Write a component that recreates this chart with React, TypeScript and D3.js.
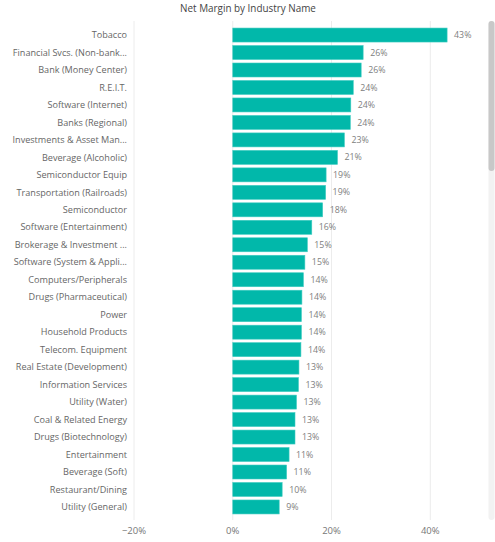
import * as d3 from "d3";

const width = 495;
const height = 542;

// industries, sorted by net margin (descending)
const industries = [
  "Tobacco",
  "Financial Svcs. (Non-bank...",
  "Bank (Money Center)",
  "R.E.I.T.",
  "Software (Internet)",
  "Banks (Regional)",
  "Investments & Asset Man...",
  "Beverage (Alcoholic)",
  "Semiconductor Equip",
  "Transportation (Railroads)",
  "Semiconductor",
  "Software (Entertainment)",
  "Brokerage & Investment ...",
  "Software (System & Appli...",
  "Computers/Peripherals",
  "Drugs (Pharmaceutical)",
  "Power",
  "Household Products",
  "Telecom. Equipment",
  "Real Estate (Development)",
  "Information Services",
  "Utility (Water)",
  "Coal & Related Energy",
  "Drugs (Biotechnology)",
  "Entertainment",
  "Beverage (Soft)",
  "Restaurant/Dining",
  "Utility (General)",
];

const netMargin = [
  0.434, 0.264, 0.26, 0.244, 0.239, 0.238, 0.226, 0.212, 0.189, 0.188, 0.182,
  0.16, 0.151, 0.146, 0.143, 0.14, 0.139, 0.139, 0.138, 0.134, 0.133, 0.129,
  0.126, 0.126, 0.114, 0.109, 0.1, 0.094,
];

const xTicks = [-0.2, 0, 0.2, 0.4];

const fontFamily = "'Open Sans', 'Noto Sans', sans-serif";

export default function App() {
  const x = d3.scaleLinear().domain([-0.2, 0.45]).range([134, 455]);
  const y = d3
    .scaleBand<string>()
    .domain(industries)
    .range([26.3, 515.7])
    .paddingInner(0.2)
    .paddingOuter(0.1);

  const fmt = d3.format(".0%");

  return (
    <svg
      width={width}
      height={height}
      style={{ position: "absolute", left: 0, top: 0, background: "#fff" }}
      fontFamily={fontFamily}
    >
      {/* title */}
      <text x={248} y={12} textAnchor="middle" fontSize={9.9} fill="#444">
        Net Margin by Industry Name
      </text>

      {/* gridlines */}
      {xTicks.map((t) => (
        <line
          key={t}
          x1={x(t)}
          x2={x(t)}
          y1={21}
          y2={520}
          stroke="#ececec"
          strokeWidth={1}
        />
      ))}

      {/* bars */}
      {industries.map((name, i) => (
        <g key={name}>
          <rect
            x={x(0)}
            y={y(name)}
            width={x(netMargin[i]) - x(0)}
            height={y.bandwidth()}
            fill="#01B8AA"
            stroke="#3fcbc0"
            strokeWidth={0.6}
          />
          <text
            x={x(netMargin[i]) + 7}
            y={(y(name) ?? 0) + y.bandwidth() / 2}
            dy="0.35em"
            fontSize={8.8}
            fill="#808080"
          >
            {fmt(netMargin[i])}
          </text>
          <text
            x={127}
            y={(y(name) ?? 0) + y.bandwidth() / 2}
            dy="0.35em"
            textAnchor="end"
            fontSize={9.1}
            fill="#666"
          >
            {name}
          </text>
        </g>
      ))}

      {/* x tick labels */}
      {xTicks.map((t) => (
        <text
          key={t}
          x={x(t)}
          y={534}
          textAnchor="middle"
          fontSize={9.5}
          fill="#777"
        >
          {fmt(t)}
        </text>
      ))}

      {/* scrollbar */}
      <rect x={488.5} y={21} width={6} height={499} rx={3} fill="#f2f2f2" />
      <rect x={488.5} y={21} width={6} height={150} rx={3} fill="#c8c8c8" />
    </svg>
  );
}
